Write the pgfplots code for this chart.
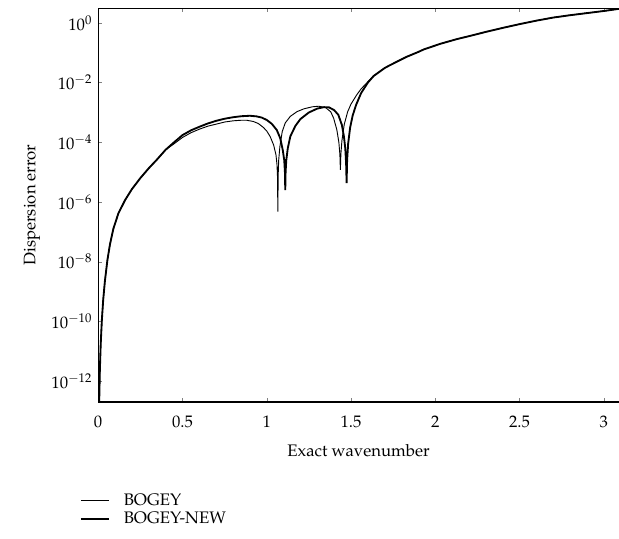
\documentclass[border=0pt]{standalone}
\usepackage[T1]{fontenc}
\usepackage{mathpazo}
\usepackage{pgfplots}
\pgfplotsset{compat=1.18}
\usetikzlibrary{calc}
\begin{document}
\begin{tikzpicture}
\begin{axis}[
  scale only axis,
  width=312pt, height=236pt,
  xmin=0, xmax=3.09,
  ymode=log, ymin=2e-13, ymax=3.162,
  axis y line*=left, axis x line*=box,
  axis line style={line width=0.4pt},
  tick align=inside,
  major tick length=2.5pt,
  xtick={0,0.5,1,1.5,2,2.5,3},
  ytick={1e-12,1e-10,1e-8,1e-6,1e-4,1e-2,1},
  yminorticks=false,
  xticklabel style={yshift=-5pt},
  xlabel={Exact wavenumber},
  xlabel style={yshift=-3pt},
  ylabel={Dispersion error},
  legend style={draw=none, fill=none, at={(rel axis cs:-0.045,-0.215)}, anchor=north west, row sep=-1.5pt, font=\normalsize},
  legend image code/.code={\draw[#1] (0cm,0cm) -- (0.6cm,0cm); \path (0.6cm+6pt,0cm);},
  legend cell align=left,
  clip=true,
]
\addplot[black, line width=0.55pt] coordinates {
(0.004,2.51e-14)(0.006,1.70e-13)(0.01,2.19e-12)(0.015,1.66e-11)(0.022,1.12e-10)
(0.03,5.37e-10)(0.04,2.24e-9)(0.055,1.15e-8)(0.07,3.80e-8)(0.09,1.26e-7)
(0.12,4.17e-7)(0.16,1.17e-6)(0.2,2.69e-6)(0.25,6.31e-6)(0.3,1.35e-5)
(0.35,2.69e-5)(0.4,5.62e-5)(0.45,8.91e-5)
(0.5,1.45e-4)(0.55,2.09e-4)(0.6,2.75e-4)(0.65,3.47e-4)(0.7,4.07e-4)
(0.75,4.79e-4)(0.8,5.25e-4)(0.85,5.50e-4)(0.88,5.50e-4)(0.92,5.01e-4)
(0.95,4.27e-4)(0.98,3.16e-4)(1.0,2.40e-4)(1.02,1.58e-4)(1.041,8.13e-5)
(1.055,3.80e-5)(1.061,1.78e-5)(1.064,7.08e-6)(1.066,4.79e-7)(1.068,7.94e-6)
(1.071,2.51e-5)(1.078,7.08e-5)(1.092,2.29e-4)(1.11,4.47e-4)(1.14,7.41e-4)
(1.18,1.07e-3)(1.22,1.32e-3)(1.27,1.55e-3)(1.31,1.62e-3)(1.35,1.45e-3)
(1.38,1.05e-3)(1.397,6.46e-4)(1.416,2.63e-4)(1.428,1.0e-4)(1.434,3.98e-5)
(1.437,1.20e-5)(1.440,3.98e-5)(1.446,1.12e-4)(1.46,3.98e-4)(1.48,1.05e-3)
(1.5,1.91e-3)(1.535,3.98e-3)(1.56,6.17e-3)(1.6,1.07e-2)(1.634,1.70e-2)
(1.7,3.09e-2)(1.733,3.89e-2)(1.8,6.03e-2)(1.832,7.41e-2)(1.9,0.107)
(1.931,0.129)(2.03,0.200)(2.129,0.288)(2.21,0.372)(2.3,0.501)
(2.405,0.692)(2.5,0.912)(2.603,1.202)(2.7,1.514)(2.801,1.820)
(2.9,2.138)(3.0,2.512)(3.05,2.754)(3.1,3.020)
};
\addlegendentry{BOGEY}
\addplot[black, line width=1.1pt] coordinates {
(0.004,2.51e-14)(0.006,1.70e-13)(0.01,2.19e-12)(0.015,1.66e-11)(0.022,1.12e-10)
(0.03,5.37e-10)(0.04,2.24e-9)(0.055,1.15e-8)(0.07,3.80e-8)(0.09,1.26e-7)
(0.12,4.17e-7)(0.16,1.17e-6)(0.2,2.69e-6)(0.25,6.31e-6)(0.3,1.35e-5)
(0.35,2.69e-5)(0.4,5.62e-5)(0.45,1.00e-4)
(0.5,1.74e-4)(0.55,2.51e-4)(0.6,3.31e-4)(0.65,4.27e-4)(0.7,5.25e-4)
(0.75,6.17e-4)(0.8,6.92e-4)(0.85,7.50e-4)(0.9,7.76e-4)(0.94,7.41e-4)
(0.97,6.76e-4)(1.0,5.62e-4)(1.03,4.17e-4)(1.06,2.57e-4)(1.08,1.38e-4)
(1.095,5.62e-5)(1.104,2.51e-5)(1.108,1.0e-5)(1.110,2.51e-6)(1.112,1.0e-5)
(1.116,2.51e-5)(1.125,6.31e-5)(1.14,1.58e-4)(1.17,3.55e-4)(1.2,6.03e-4)
(1.25,1.0e-3)(1.3,1.35e-3)(1.34,1.51e-3)(1.37,1.48e-3)(1.40,1.20e-3)
(1.425,8.32e-4)(1.446,3.80e-4)(1.458,1.58e-4)(1.466,6.31e-5)(1.471,2.0e-5)
(1.474,4.27e-6)(1.477,2.51e-5)(1.483,8.91e-5)(1.495,3.16e-4)(1.51,7.94e-4)
(1.53,1.78e-3)(1.56,4.47e-3)(1.6,1.0e-2)(1.634,1.66e-2)
(1.7,3.09e-2)(1.733,3.89e-2)(1.8,6.03e-2)(1.832,7.41e-2)(1.9,0.107)
(1.931,0.129)(2.03,0.200)(2.129,0.288)(2.21,0.372)(2.3,0.501)
(2.405,0.692)(2.5,0.912)(2.603,1.202)(2.7,1.514)(2.801,1.820)
(2.9,2.138)(3.0,2.512)(3.05,2.754)(3.1,3.020)
};
\addlegendentry{BOGEY-NEW}
\draw[line width=0.8pt] (rel axis cs:0,1) -- (rel axis cs:0,0) -- (rel axis cs:1,0);
\coordinate (ll) at (rel axis cs:0,0);
\coordinate (ur) at (rel axis cs:1,1);
\end{axis}
\pgfresetboundingbox
\path[use as bounding box] ($(ll)+(-58.8pt,-81.6pt)$) rectangle ($(ur)+(0pt,4.8pt)$);
\end{tikzpicture}
\end{document}
